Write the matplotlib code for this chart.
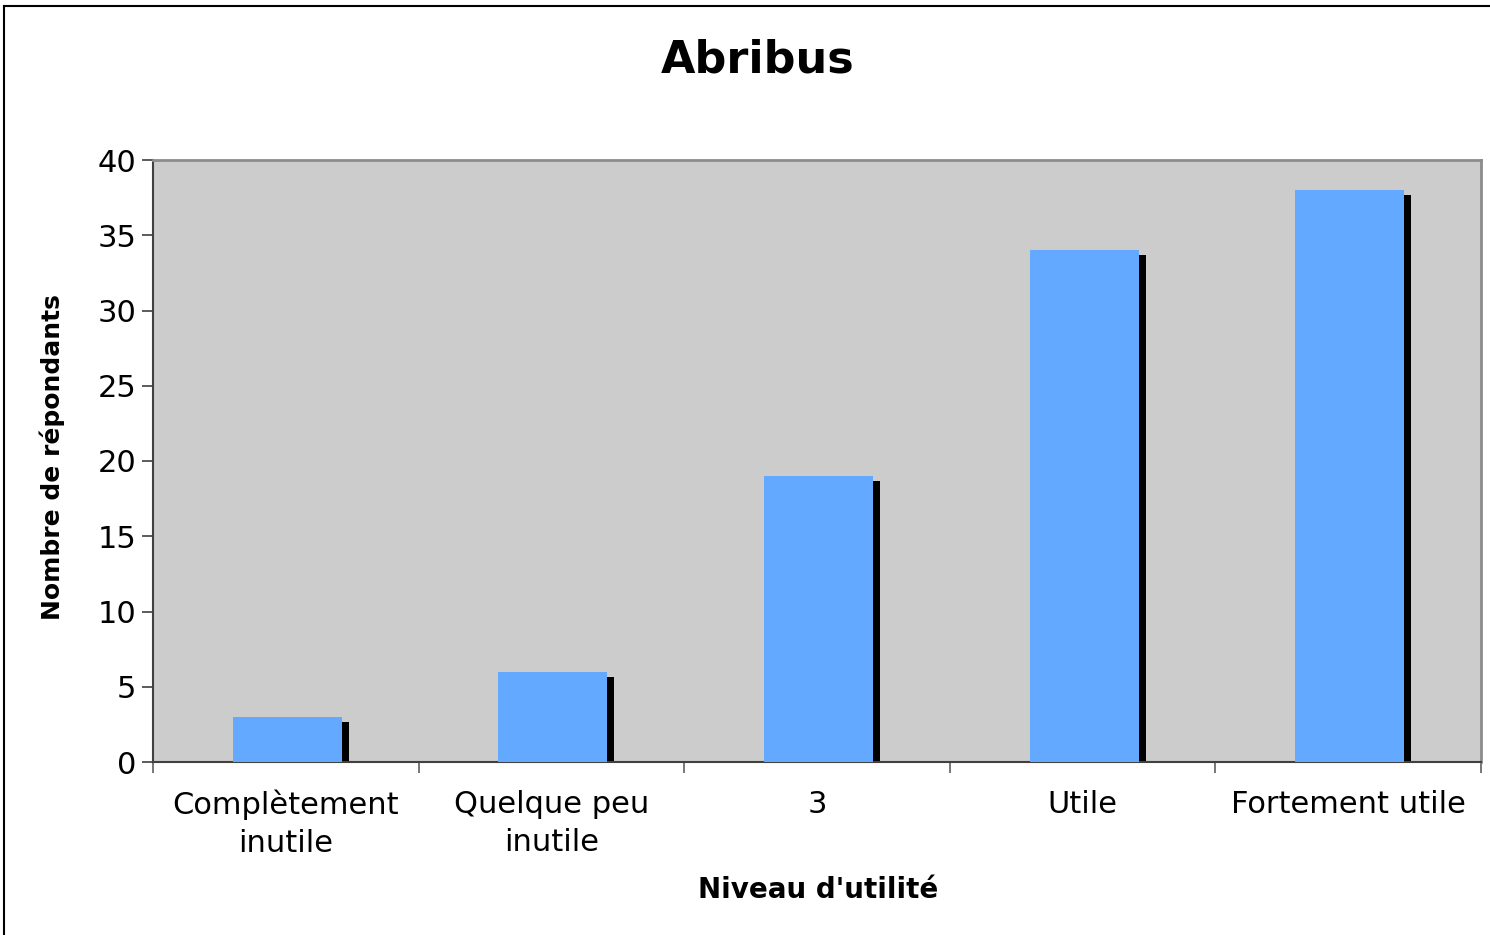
import matplotlib
matplotlib.use("Agg")
import matplotlib.pyplot as plt
from matplotlib.lines import Line2D
import numpy as np

categories = ["Complètement\ninutile", "Quelque peu\ninutile", "3", "Utile", "Fortement utile"]
values = [3, 6, 19, 34, 38]
yticks = [0, 5, 10, 15, 20, 25, 30, 35, 40]

title = "Abribus"
xlabel = "Niveau d'utilité"
ylabel = "Nombre de répondants"

plt.rcParams['font.family'] = ['DejaVu Sans']

fig = plt.figure(figsize=(14.9, 9.35), dpi=100)
ax = fig.add_axes([153/1490, 1 - 762/935, (1481-153)/1490, (762-160)/935])
ax.set_facecolor("#CCCCCC")

x = np.arange(len(categories))
bw = 0.41
shift = 1.5/265.6
dx = 7/265.6
dy = 5/15.05
ax.bar(x + shift + dx, np.array(values) - dy, width=bw, color="black", zorder=2, linewidth=0)
ax.bar(x + shift, values, width=bw, color="#63A9FF", zorder=3, linewidth=0)

ax.set_xlim(-0.5, len(categories) - 0.5)
ax.set_ylim(0, 40)
ax.set_yticks(yticks)
ax.set_yticklabels([str(t) for t in yticks], fontsize=22)
ax.tick_params(axis='y', length=8, width=1.2, color="#404040", pad=4)

ax.set_xticks(np.arange(len(categories) + 1) - 0.5)
ax.set_xticklabels([])
ax.tick_params(axis='x', which='major', length=8, width=1.2, color="#606060", direction='out')
ax.set_xticks(x, minor=True)
ax.set_xticklabels(categories, minor=True, fontsize=22, linespacing=1.4)
ax.tick_params(axis='x', which='minor', length=0, pad=20)

for side in ['top', 'right']:
    ax.spines[side].set_color("#8C8C8C")
    ax.spines[side].set_linewidth(2)
for side in ['left', 'bottom']:
    ax.spines[side].set_color("#404040")
    ax.spines[side].set_linewidth(1.5)

fig.text(758/1490, 1 - 60/935, title, ha='center', va='center', fontsize=32, fontweight='bold')
fig.text(818/1490, 1 - 890/935, xlabel, ha='center', va='center', fontsize=20, fontweight='bold')
fig.text(52/1490, 1 - 457/935, ylabel, ha='center', va='center', rotation=90, fontsize=18, fontweight='bold')

fig.add_artist(Line2D([4/1490, 4/1490], [0, 1 - 6/935], transform=fig.transFigure, color="black", linewidth=1.5))
fig.add_artist(Line2D([4/1490, 1], [1 - 6/935, 1 - 6/935], transform=fig.transFigure, color="black", linewidth=1.5))

fig.savefig("out.png", dpi=100, facecolor="white")
